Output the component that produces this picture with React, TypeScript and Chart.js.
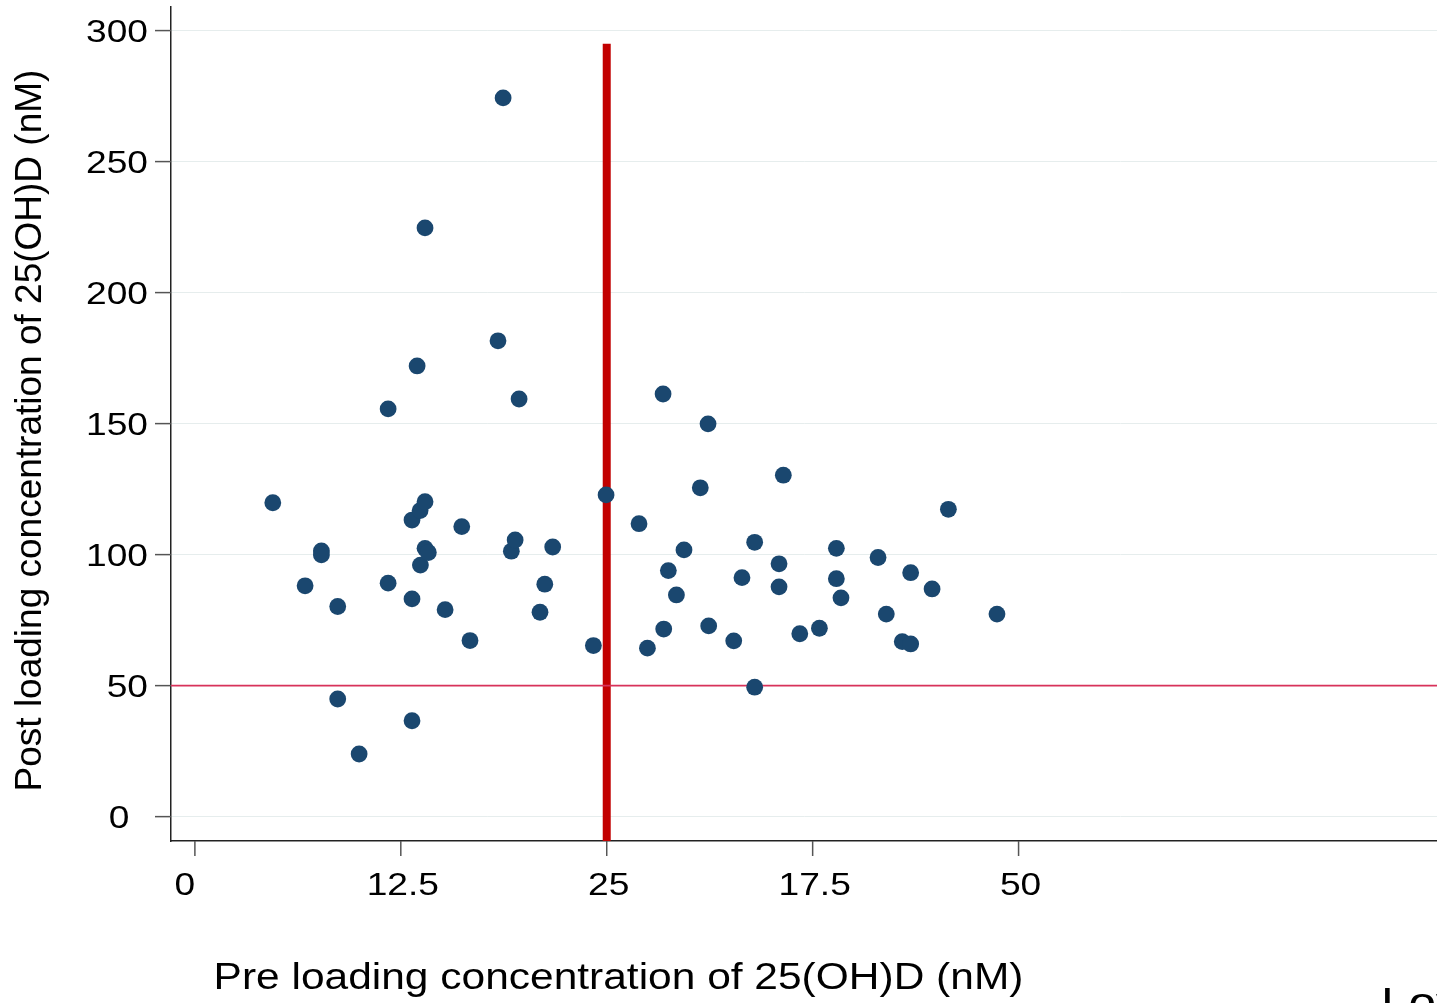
import React, { useEffect, useRef } from 'react';
import { Chart, registerables } from 'chart.js';

Chart.register(...registerables);

// ---- data ----
const preLoading = [
  4.73, 6.69, 7.68, 7.68, 8.67, 8.67, 9.97, 11.73, 11.73, 13.18, 13.18, 13.18, 13.49, 13.67, 13.69,
  13.97, 13.97, 13.97, 14.17, 15.19, 16.2, 16.7, 18.4, 18.71, 19.21, 19.44, 19.68, 20.95, 21.24, 21.72,
  24.19, 24.96, 26.96, 27.47, 28.42, 28.46, 28.74, 29.23, 29.69, 30.68, 31.15, 31.19, 32.71, 33.21,
  33.98, 33.98, 35.46, 35.46, 35.72, 36.72, 37.91, 38.94, 38.94, 39.22, 41.47, 41.97, 42.94, 43.45,
  43.45, 44.75, 45.74, 48.69,
];
const postLoading = [
  119.8, 88.1, 101.4, 99.9, 80.2, 44.9, 23.9, 155.6, 89.1, 113.2, 83.1, 36.6, 172.0, 116.8, 96.0,
  120.2, 224.7, 102.4, 100.8, 79.0, 110.7, 67.2, 181.6, 274.3, 101.3, 105.6, 159.4, 78.0, 88.7, 102.9,
  65.3, 122.8, 111.8, 64.3, 161.3, 71.6, 93.9, 84.6, 101.8, 125.5, 149.9, 72.8, 67.1, 91.2,
  104.7, 49.4, 96.5, 87.7, 130.3, 69.8, 71.9, 102.4, 90.8, 83.5, 98.9, 77.3, 66.8, 93.1,
  65.9, 86.9, 117.3, 77.3,
];
const xTickValues = [0, 12.5, 25, 37.5, 50];
const xTickLabels = ['0', '12.5', '25', '17.5', '50'];
const yTickValues = [0, 50, 100, 150, 200, 250, 300];
const yTickLabels = ['0', '50', '100', '150', '200', '250', '300'];
const preThreshold = 25;
const preThresholdTop = 295;
const postThreshold = 50;
const xRange = [-1.45, 75.4];
const yRange = [-9.3, 309.0];
const xTitle = 'Pre loading concentration of 25(OH)D (nM)';
const yTitle = 'Post loading concentration of 25(OH)D (nM)';
const legendText = 'Lowess';

const W = 1437;
const H = 1003;
const STRETCH = 1.18;

const annotationPlugin = {
  id: 'stataText',
  afterDraw(chart: any) {
    const ctx = chart.ctx as CanvasRenderingContext2D;
    const xs = chart.scales.x;
    const ys = chart.scales.y;
    const area = chart.chartArea;
    ctx.save();
    // tick marks
    ctx.strokeStyle = '#555555';
    ctx.lineWidth = 1.5;
    yTickValues.forEach((v) => {
      const py = ys.getPixelForValue(v);
      ctx.beginPath();
      ctx.moveTo(area.left - 16, py);
      ctx.lineTo(area.left, py);
      ctx.stroke();
    });
    xTickValues.forEach((v) => {
      const px = xs.getPixelForValue(v);
      ctx.beginPath();
      ctx.moveTo(px, area.bottom);
      ctx.lineTo(px, area.bottom + 15);
      ctx.stroke();
    });

    const drawText = (text: string, x: number, y: number, align: CanvasTextAlign, size: number, sx: number) => {
      ctx.save();
      ctx.translate(x, y);
      ctx.scale(sx, 1);
      ctx.font = `${size}px "Liberation Sans", Arial, sans-serif`;
      ctx.textAlign = align;
      ctx.textBaseline = 'alphabetic';
      ctx.fillStyle = '#000000';
      ctx.fillText(text, 0, 0);
      ctx.restore();
    };

    // y tick labels
    yTickValues.forEach((v, i) => {
      const py = ys.getPixelForValue(v);
      const label = yTickLabels[i];
      if (label.length === 1) drawText(label, 119, py + 11, 'center', 31.5, STRETCH);
      else drawText(label, 148, py + 11, 'right', 31.5, STRETCH);
    });
    // x tick labels
    xTickValues.forEach((v, i) => {
      const px = xs.getPixelForValue(v);
      const label = xTickLabels[i];
      const cx = label.length === 1 ? px - 10 : px + 2;
      drawText(label, cx, 895, 'center', 31.5, STRETCH);
    });
    // x title
    drawText(xTitle, 618.5, 989, 'center', 36, STRETCH);
    // legend text (cut off at the right edge)
    drawText(legendText, 1381, 1017, 'left', 42, STRETCH);
    // y title
    ctx.save();
    ctx.translate(41, 430.5);
    ctx.rotate(-Math.PI / 2);
    ctx.font = '37px "Liberation Sans", Arial, sans-serif';
    ctx.textAlign = 'center';
    ctx.textBaseline = 'alphabetic';
    ctx.fillStyle = '#000000';
    ctx.fillText(yTitle, 0, 0);
    ctx.restore();

    ctx.restore();
  },
};

export default function App() {
  const ref = useRef<HTMLCanvasElement | null>(null);
  useEffect(() => {
    if (!ref.current) return;
    const points = preLoading.map((x, i) => ({ x, y: postLoading[i] }));
    const chart = new Chart(ref.current, {
      type: 'scatter',
      data: {
        datasets: [
          {
            label: 'Observations',
            data: points,
            backgroundColor: '#1a476f',
            borderWidth: 0,
            pointRadius: 8.4,
            pointHoverRadius: 8.4,
          },
          {
            label: 'Post threshold',
            data: [
              { x: xRange[0], y: postThreshold },
              { x: xRange[1], y: postThreshold },
            ],
            showLine: true,
            borderColor: '#d8325a',
            borderWidth: 1.6,
            pointRadius: 0,
          },
          {
            label: 'Pre threshold',
            data: [
              { x: preThreshold, y: yRange[0] },
              { x: preThreshold, y: preThresholdTop },
            ],
            showLine: true,
            borderColor: '#c20000',
            borderWidth: 8,
            pointRadius: 0,
          },
        ],
      },
      options: {
        responsive: false,
        animation: false,
        layout: { autoPadding: false, padding: { left: 171, top: 7, right: 0, bottom: H - 841 } },
        plugins: { legend: { display: false }, tooltip: { enabled: false } },
        scales: {
          x: {
            type: 'linear',
            min: xRange[0],
            max: xRange[1],
            afterBuildTicks: (s: any) => {
              s.ticks = xTickValues.map((v) => ({ value: v }));
            },
            ticks: { display: false },
            grid: { display: false, drawTicks: false },
            border: { display: true, color: '#222222', width: 1.5 },
          },
          y: {
            type: 'linear',
            min: yRange[0],
            max: yRange[1],
            afterBuildTicks: (s: any) => {
              s.ticks = yTickValues.map((v) => ({ value: v }));
            },
            ticks: { display: false },
            grid: { display: true, drawTicks: false, color: '#e6eded', lineWidth: 1 },
            border: { display: true, color: '#222222', width: 1.5 },
          },
        },
      },
      plugins: [annotationPlugin],
    });
    return () => chart.destroy();
  }, []);
  return (
    <div style={{ position: 'absolute', left: 0, top: 0, width: W, height: H, background: '#ffffff' }}>
      <canvas ref={ref} width={W} height={H} style={{ display: 'block', width: W, height: H }} />
    </div>
  );
}
